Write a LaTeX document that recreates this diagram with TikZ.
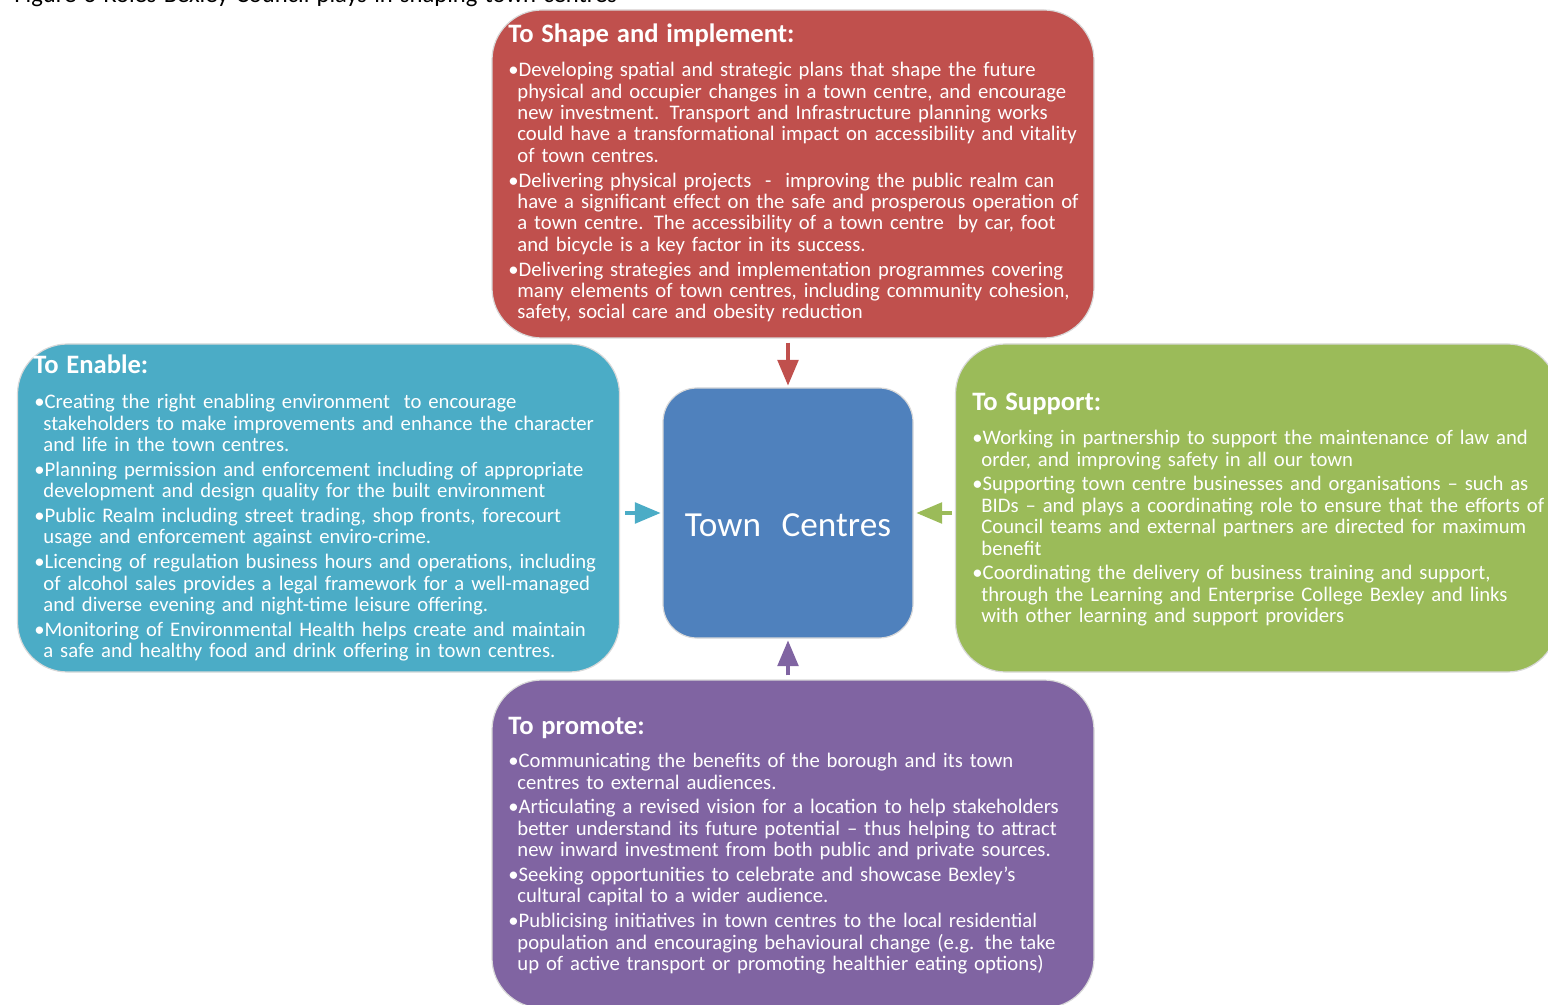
\documentclass[tikz,border=0pt]{standalone}
\usepackage{fontspec}
\setmainfont{Carlito}[WordSpace=1.3]
\usepackage{tikz}
\usetikzlibrary{shapes.geometric, arrows}

\definecolor{shapered}{HTML}{C0504D}
\definecolor{enableblue}{HTML}{4BACC6}
\definecolor{supportgreen}{HTML}{9BBB59}
\definecolor{promotepurple}{HTML}{8064A2}
\definecolor{townblue}{HTML}{4F81BD}

% one bullet point, later lines hang under the text (end each one with \par)
\newcommand{\bul}{\noindent\hangindent=4.5pt\hangafter=1\textbullet}

\begin{document}
\begin{tikzpicture}[x=0.5pt, y=-0.5pt, font=\small]
		\tikzstyle{role} = [rectangle, rounded corners=25pt, minimum width=301pt, minimum height=164pt, draw=white!85!black, line width=0.6pt]
		
		\tikzstyle{hub} = [rectangle, rounded corners=17pt, minimum width=125pt, minimum height=125pt, fill=townblue, draw=white!85!black, line width=0.6pt]
		
		\tikzstyle{heading} = [anchor=base west, inner sep=0pt, text=white, font=\fontsize{13.3}{15}\selectfont\bfseries]
		
		\tikzstyle{points} = [anchor=north west, inner sep=0pt, text=white, text width=296pt, align=left, font=\fontsize{10.35}{10.7}\selectfont\setlength{\parskip}{1.7pt}]
		
		\tikzstyle{arrow} = [->,>= triangle 45, line width=2pt]
		
		\useasboundingbox (0,0) rectangle (1548,1005);
		
		% caption, cut by the top edge
		\node (caption) [anchor=base west, inner sep=0pt, font=\fontsize{12.3}{14}\selectfont] at (14,3) {Figure 3 Roles Bexley Council plays in shaping town centres};
		
		% the four boxes round the middle
		\node (shape) [role, fill=shapered] at (793,174) {};
		\node (enable) [role, fill=enableblue] at (318.5,508) {};
		\node (support) [role, fill=supportgreen] at (1256.5,508) {};
		\node (promote) [role, fill=promotepurple] at (793,844) {};
		
		% middle box
		\node (town) [hub] at (788,513) {};
		\node (townlbl) [text=white, font=\fontsize{17.6}{20}\selectfont] at ([yshift=-6pt]town.center) {Town~ Centres};
		
		% To Shape and implement
		\node (shapehd) [heading] at (508,43) {To Shape and implement:};
		\node (shapetx) [points] at (508,62) {%
			\bul Developing spatial and strategic plans that shape the future\newline
			physical and occupier changes in a town centre, and encourage\newline
			new investment. Transport and Infrastructure planning works\newline
			could have a transformational impact on accessibility and vitality\newline
			of town centres.\par
			\bul Delivering physical projects~ -~ improving the public realm can\newline
			have a significant effect on the safe and prosperous operation of\newline
			a town centre. The accessibility of a town centre~ by car, foot\newline
			and bicycle is a key factor in its success.\par
			\bul Delivering strategies and implementation programmes covering\newline
			many elements of town centres, including community cohesion,\newline
			safety, social care and obesity reduction\par};
		
		% To Enable
		\node (enablehd) [heading] at (33,374) {To Enable:};
		\node (enabletx) [points] at (34,394) {%
			\bul Creating the right enabling environment~ to encourage\newline
			stakeholders to make improvements and enhance the character\newline
			and life in the town centres.\par
			\bul Planning permission and enforcement including of appropriate\newline
			development and design quality for the built environment\par
			\bul Public Realm including street trading, shop fronts, forecourt\newline
			usage and enforcement against enviro-crime.\par
			\bul Licencing of regulation business hours and operations, including\newline
			of alcohol sales provides a legal framework for a well-managed\newline
			and diverse evening and night-time leisure offering.\par
			\bul Monitoring of Environmental Health helps create and maintain\newline
			a safe and healthy food and drink offering in town centres.\par};
		
		% To Support
		\node (supporthd) [heading] at (972,411) {To Support:};
		\node (supporttx) [points] at (972,430) {%
			\bul Working in partnership to support the maintenance of law and\newline
			order, and improving safety in all our town\par
			\bul Supporting town centre businesses and organisations -- such as\newline
			BIDs -- and plays a coordinating role to ensure that the efforts of\newline
			Council teams and external partners are directed for maximum\newline
			benefit\par
			\bul Coordinating the delivery of business training and support,\newline
			through the Learning and Enterprise College Bexley and links\newline
			with other learning and support providers\par};
		
		% To promote
		\node (promotehd) [heading] at (508,734) {To promote:};
		\node (promotetx) [points] at (508,753) {%
			\bul Communicating the benefits of the borough and its town\newline
			centres to external audiences.\par
			\bul Articulating a revised vision for a location to help stakeholders\newline
			better understand its future potential -- thus helping to attract\newline
			new inward investment from both public and private sources.\par
			\bul Seeking opportunities to celebrate and showcase Bexley’s\newline
			cultural capital to a wider audience.\par
			\bul Publicising initiatives in town centres to the local residential\newline
			population and encouraging behavioural change (e.g. the take\newline
			up of active transport or promoting healthier eating options)\par};
		
		% Arrows
		\draw [arrow, shapered, shorten <=2pt, shorten >=1pt] (shape.south -| town.north) -- (town.north);
		\draw [arrow, enableblue, shorten <=2.5pt, shorten >=1pt] (enable.east |- town.west) -- (town.west);
		\draw [arrow, supportgreen, shorten <=1.5pt, shorten >=1.5pt] (support.west |- town.east) -- (town.east);
		\draw [arrow, promotepurple, shorten <=2pt, shorten >=1pt] (promote.north -| town.south) -- (town.south);
		\end{tikzpicture}
\end{document}
